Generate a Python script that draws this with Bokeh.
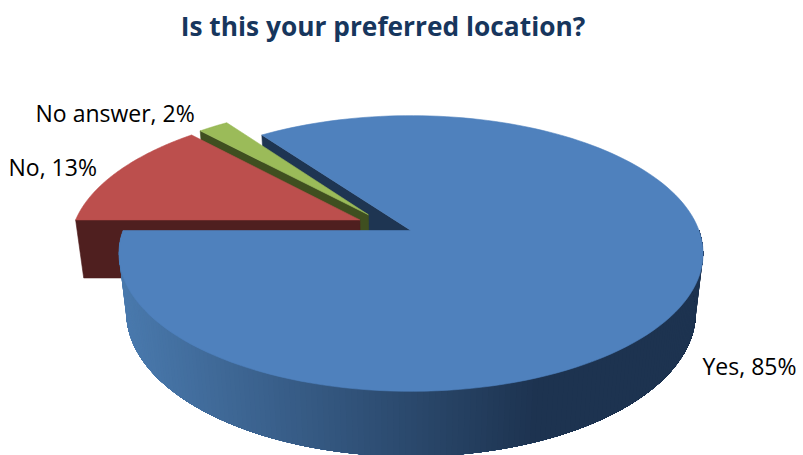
import numpy as np
from bokeh.embed import file_html
from bokeh.models import ColumnDataSource, Range1d
from bokeh.core.properties import value
from bokeh.plotting import figure
from bokeh.resources import INLINE

# ---- data
title = "Is this your preferred location?"
categories = ["Yes", "No", "No answer"]
values = [85, 13, 2]
top_colors = ["#4f81bd", "#bc4f4d", "#9bbb59"]
wall_colors = ["#1e3552", "#4f1f1f", "#3f4f20"]
label_x = [702, 8, 35]
label_y = [365, 166, 112]
# explosion of each slice in disc units
explode_u = [0.0, -0.18, -0.151]
explode_v = [0.0, 0.08, 0.12]

# ---- view geometry of the 3-D disc (pixels)
CX, CY = 410.5, 230.0
A, B, K = 288.0, 134.0, 0.1667
E, M = 60.0, 0.025
FIRST_ANGLE = 126.0          # math degrees, slices run clockwise


def project(u, v, h=0.0):
    den = 1 + K * v + M * h
    return CX + A * u / den, CY + (B * v * -1 + E * h) / den


def rim(a_deg, ou, ov, h=0.0):
    a = np.radians(a_deg)
    return project(ou + np.cos(a), ov + np.sin(a), h)


def sector(a0, a1, ou, ov):
    aa = np.linspace(a0, a1, 160)
    xs, ys = rim(aa, ou, ov)
    ax, ay = project(ou, ov)
    return list(np.r_[ax, xs]), list(np.r_[ay, ys])


def radial_wall(a_deg, ou, ov):
    x0, y0 = project(ou, ov)
    x1, y1 = rim(a_deg, ou, ov)
    x2, y2 = rim(a_deg, ou, ov, 1.0)
    x3, y3 = project(ou, ov, 1.0)
    return [x0, x1, x2, x3], [y0, y1, y2, y3]


# slice angles from the values
total = sum(values)
starts, ends = [], []
angle = FIRST_ANGLE
for v in values:
    starts.append(angle)
    angle -= 360.0 * v / total
    ends.append(angle)

W, H = 803, 455
p = figure(width=W, height=H, output_backend="svg", toolbar_location=None,
           x_range=Range1d(0, W), y_range=Range1d(H, 0),
           min_border=0, outline_line_color=None, background_fill_color="white")
p.axis.visible = False
p.grid.visible = False


def poly(xs, ys, color):
    p.patch(xs, ys, fill_color=color, line_color=color, line_width=0.6)


# back cut face of the big slice
poly(*radial_wall(starts[0], explode_u[0], explode_v[0]), wall_colors[0])

# small slice, then the middle slice: cut face, then top
for i in (2, 1):
    wall_angle = starts[i] % 360 if i == 2 else 180.0
    poly(*radial_wall(wall_angle, explode_u[i], explode_v[i]), wall_colors[i])
    poly(*sector(starts[i], ends[i], explode_u[i], explode_v[i]), top_colors[i])

# curved front wall of the big slice, shaded in overlapping strips


def shade(x):
    t = np.clip((x - 120.0) / (535.0 - 120.0), 0, 1)
    c0, c1 = np.array([0x4a, 0x7a, 0xae]), np.array([0x1d, 0x33, 0x50])
    r, g, b = (c0 + (c1 - c0) * t).round().astype(int)
    return f"#{r:02x}{g:02x}{b:02x}"


edges = np.linspace(-180, 0, 181)
sx, sy, sc = [], [], []
for a0 in edges[:-1]:
    arc = np.linspace(a0, 0, 40) if a0 > -170 else np.linspace(a0, 0, 90)
    xt, yt = rim(arc, 0, 0)
    xb, yb = rim(arc, 0, 0, 1.0)
    sx.append(list(np.r_[xt, xb[::-1]]))
    sy.append(list(np.r_[yt, yb[::-1]]))
    x0, _ = rim(a0 + 0.5, 0, 0, 0.5)
    sc.append(shade(x0))
# draw each strip from its own edge through to the right end, so later ones overlap
p.patches("x", "y", source=ColumnDataSource(dict(x=sx, y=sy, c=sc)),
          fill_color="c", line_color=None)

# top of the big slice
poly(*sector(starts[0], ends[0], explode_u[0], explode_v[0]), top_colors[0])

# data labels and title
labels = [f"{c}, {v}%" for c, v in zip(categories, values)]
p.text(label_x, label_y, text=labels, text_font=value("Open Sans"), text_font_size="23px",
       text_color="#000000", text_baseline="middle", text_align="left")
p.text([382.5], [25], text=[title], text_font=value("Open Sans"), text_font_size="26.3px",
       text_font_style="bold", text_color="#17365d", text_baseline="middle", text_align="center")

open("out.html", "w").write(file_html(p, INLINE))
